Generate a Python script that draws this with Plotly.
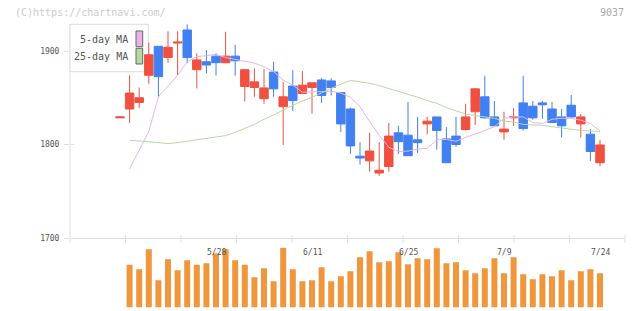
import plotly.graph_objects as go

# ---- data ----
dates = ["5/14", "5/15", "5/16", "5/17", "5/20", "5/21", "5/22", "5/23", "5/24", "5/27",
         "5/28", "5/29", "5/30", "5/31", "6/3", "6/4", "6/5", "6/6", "6/7", "6/10",
         "6/11", "6/12", "6/13", "6/14", "6/17", "6/18", "6/19", "6/20", "6/21", "6/24",
         "6/25", "6/26", "6/27", "6/28", "7/1", "7/2", "7/3", "7/4", "7/5", "7/8",
         "7/9", "7/10", "7/11", "7/12", "7/16", "7/17", "7/18", "7/19", "7/22", "7/23",
         "7/24"]

open_ = [1828.5, 1838, 1845, 1874, 1905, 1893, 1908.5, 1922.5, 1880, 1888.5,
         1894.5, 1887.5, 1894.5, 1862, 1861, 1849, 1877.5, 1840.5, 1862.5, 1854.5,
         1861, 1869, 1868, 1855.5, 1838, 1787.5, 1782.5, 1769.5, 1776.5, 1812.5,
         1810, 1805, 1822, 1829.5, 1806, 1809, 1816, 1835, 1851, 1829.5,
         1813.5, 1828.5, 1844.5, 1841, 1844.5, 1838, 1829.5, 1842, 1822, 1811,
         1780.5]
high = [1829.5, 1874, 1861, 1909, 1905, 1921, 1921, 1928.5, 1897.5, 1901,
        1897.5, 1920.5, 1906.5, 1880, 1881.5, 1880.5, 1888.5, 1867, 1879.5, 1878.5,
        1866, 1871, 1871, 1855.5, 1839.5, 1802.5, 1812.5, 1802.5, 1823, 1820,
        1845.5, 1829.5, 1829.5, 1829.5, 1818.5, 1829.5, 1843.5, 1860.5, 1873.5, 1846.5,
        1835, 1839, 1873.5, 1846.5, 1846.5, 1845.5, 1838, 1853, 1832.5, 1816.5,
        1805]
low = [1828.5, 1823, 1839, 1865, 1851, 1887.5, 1874, 1887, 1860, 1876,
       1874, 1887.5, 1873.5, 1846, 1851, 1843.5, 1851, 1799.5, 1836, 1854.5,
       1833, 1844.5, 1852.5, 1813.5, 1790, 1778.5, 1771, 1766.5, 1771, 1790,
       1788, 1791, 1811, 1794.5, 1780.5, 1797.5, 1815, 1821, 1827.5, 1820,
       1805, 1820, 1815, 1826.5, 1827.5, 1823.5, 1807.5, 1828.5, 1807.5, 1782.5,
       1776.5]
close = [1829.5, 1855, 1850, 1896, 1872.5, 1904, 1909.5, 1893, 1890.5, 1885,
         1887.5, 1894.5, 1889.5, 1880, 1867, 1860.5, 1859.5, 1851, 1847, 1863.5,
         1866, 1852.5, 1861, 1822, 1798.5, 1785.5, 1793, 1772.5, 1809, 1803,
         1788, 1802, 1825, 1815, 1780.5, 1800, 1829.5, 1859.5, 1828.5, 1820,
         1816.5, 1829.5, 1817, 1828.5, 1842.5, 1823.5, 1820, 1829.5, 1829.5, 1792.5,
         1799.5]

ma5 = [None, 1774, 1794, 1814, 1851, 1862, 1874, 1888.5, 1894, 1895,
       1896.5, 1893, 1891, 1889, 1887, 1883, 1878, 1869, 1863.5, 1856,
       1856, 1856.5, 1857, 1855, 1850.5, 1840.5, 1824.5, 1810, 1797, 1792.5,
       1793, 1795, 1796, 1805, 1805.5, 1803.5, 1807.5, 1811, 1815, 1819,
       1828, 1829.5, 1829.5, 1823.5, 1822.5, 1827, 1828, 1828, 1826, 1822.5,
       1814.5]
ma25 = [None, 1804.5, 1804, 1803, 1802, 1801, 1802, 1803.5, 1805, 1806,
        1807.5, 1809.5, 1813, 1817.5, 1821.5, 1827, 1831.5, 1837, 1842, 1846.5,
        1850.5, 1855.5, 1860, 1864.5, 1868.5, 1867, 1865.5, 1863, 1860, 1857,
        1854, 1850.5, 1847, 1844, 1839.5, 1836, 1832.5, 1831, 1829.5, 1828,
        1825, 1824, 1821.5, 1821, 1820.5, 1819, 1817.5, 1816.5, 1815, 1814.5,
        1814]

# volume in thousands of shares (relative)
volume = [None, 128, 115, 175, 82, 145, 112, 142, 128, 133,
          162, 175, 142, 128, 91, 118, 79, 179, 115, 79,
          82, 121, 79, 94, 109, 151, 169, 136, 139, 166,
          130, 148, 145, 178, 133, 136, 112, 103, 118, 148,
          103, 151, 100, 85, 100, 94, 112, 82, 109, 115,
          103]

price_ticks = [1700, 1800, 1900]
date_labels = ["5/28", "6/11", "6/25", "7/9", "7/24"]
legend_names = ["5-day MA", "25-day MA"]

# ---- styling ----
W, H = 640, 311
L, R = 70, 15
PW = W - L - R
RED, BLUE, ORANGE = "#f05040", "#4080f0", "#f0963c"
PINK, GREEN = "#e8b4e8", "#b4daa4"
AX = "#e0e0e0"
MONO = "DejaVu Sans Mono"


def py(p):  # pixel y -> paper
    return 1 - p / H


def px(p):  # pixel x -> paper
    return (p - L) / PW


fig = go.Figure()

fig.add_trace(go.Candlestick(
    x=dates, open=open_, high=high, low=low, close=close,
    increasing=dict(line=dict(color=RED, width=1), fillcolor=RED),
    decreasing=dict(line=dict(color=BLUE, width=1), fillcolor=BLUE),
    whiskerwidth=0, showlegend=False, hoverinfo="skip"))

fig.add_trace(go.Scatter(x=dates, y=ma5, mode="lines",
                         line=dict(color=PINK, width=1), showlegend=False, hoverinfo="skip"))
fig.add_trace(go.Scatter(x=dates, y=ma25, mode="lines",
                         line=dict(color=GREEN, width=1), showlegend=False, hoverinfo="skip"))

fig.add_trace(go.Bar(x=dates, y=volume, width=0.625, marker=dict(color=ORANGE, line=dict(width=0)),
                     yaxis="y2", showlegend=False, hoverinfo="skip"))

step = 9.6
r0 = -50 / step
r1 = r0 + PW / step

fig.update_layout(
    width=W, height=H,
    margin=dict(l=L, r=R, t=0, b=0, pad=0, autoexpand=False),
    paper_bgcolor="white", plot_bgcolor="white",
    boxgap=0.12, boxgroupgap=0,
    hovermode=False,
    xaxis=dict(type="category", range=[r0, r1], showgrid=False, zeroline=False,
               showline=True, linecolor=AX, linewidth=1, showticklabels=False, ticks="",
               rangeslider=dict(visible=False), fixedrange=True, anchor="y", automargin=False),
    yaxis=dict(domain=[py(238), py(15)], range=[1700, 1700 + 223 / 0.935],
               tickvals=price_ticks, ticktext=[str(t) for t in price_ticks],
               ticks="outside", ticklen=5, tickcolor=AX, tickwidth=1,
               tickfont=dict(family=MONO, size=8, color="#555555"),
               showgrid=False, zeroline=False, showline=False, ticklabelstandoff=3,
               automargin=False),
    yaxis2=dict(domain=[py(307.5), py(247.5)], range=[0, 180], showgrid=False,
                zeroline=False, showline=False, showticklabels=False, anchor="x",
                automargin=False),
    font=dict(family=MONO),
)

shapes = []
# left axis line
shapes.append(dict(type="line", xref="paper", yref="paper", x0=0, x1=0, y0=py(243), y1=py(24),
                   line=dict(color=AX, width=1), layer="below"))
# bottom tick marks
for k in range(1, 11):
    shapes.append(dict(type="line", xref="paper", yref="paper", x0=k / 10, x1=k / 10,
                       y0=py(243), y1=py(235), line=dict(color=AX, width=1), layer="below"))
# inner part of y ticks
for t in price_ticks[1:]:
    shapes.append(dict(type="line", xref="paper", yref="y", x0=0, x1=px(74), y0=t, y1=t,
                       line=dict(color=AX, width=1), layer="below"))
# legend box
shapes.append(dict(type="rect", xref="paper", yref="paper", x0=0, x1=px(148.3),
                   y0=py(71.7), y1=py(24.3), line=dict(color="#dddddd", width=1),
                   fillcolor="white", layer="below"))
# legend swatches
shapes.append(dict(type="rect", xref="paper", yref="paper", x0=px(136), x1=px(142.7),
                   y0=py(46.7), y1=py(31), line=dict(color="#666666", width=1), fillcolor=PINK))
shapes.append(dict(type="rect", xref="paper", yref="paper", x0=px(136), x1=px(142.7),
                   y0=py(64), y1=py(48.3), line=dict(color="#666666", width=1), fillcolor=GREEN))
fig.update_layout(shapes=shapes)

ann = []
ann.append(dict(text=legend_names[0], xref="paper", yref="paper", x=px(130), y=py(39.5),
                xanchor="right", yanchor="middle", showarrow=False,
                font=dict(family=MONO, size=10, color="#555555")))
ann.append(dict(text=legend_names[1], xref="paper", yref="paper", x=px(130), y=py(56.5),
                xanchor="right", yanchor="middle", showarrow=False,
                font=dict(family=MONO, size=10, color="#555555")))
ann.append(dict(text="(C)https://chartnavi.com/", xref="paper", yref="paper", x=px(13), y=py(12.5),
                xanchor="left", yanchor="middle", showarrow=False,
                font=dict(family=MONO, size=10, color="#cccccc")))
ann.append(dict(text="9037", xref="paper", yref="paper", x=px(626), y=py(12.5),
                xanchor="right", yanchor="middle", showarrow=False,
                font=dict(family=MONO, size=10, color="#aaaaaa")))
for d in date_labels:
    ann.append(dict(text=d, xref="x", yref="paper", x=d, y=py(252),
                    xanchor="center", yanchor="middle", showarrow=False,
                    font=dict(family=MONO, size=8, color="#555555")))
fig.update_layout(annotations=ann)

fig.write_html("out.html", config=dict(displayModeBar=False, staticPlot=True))
